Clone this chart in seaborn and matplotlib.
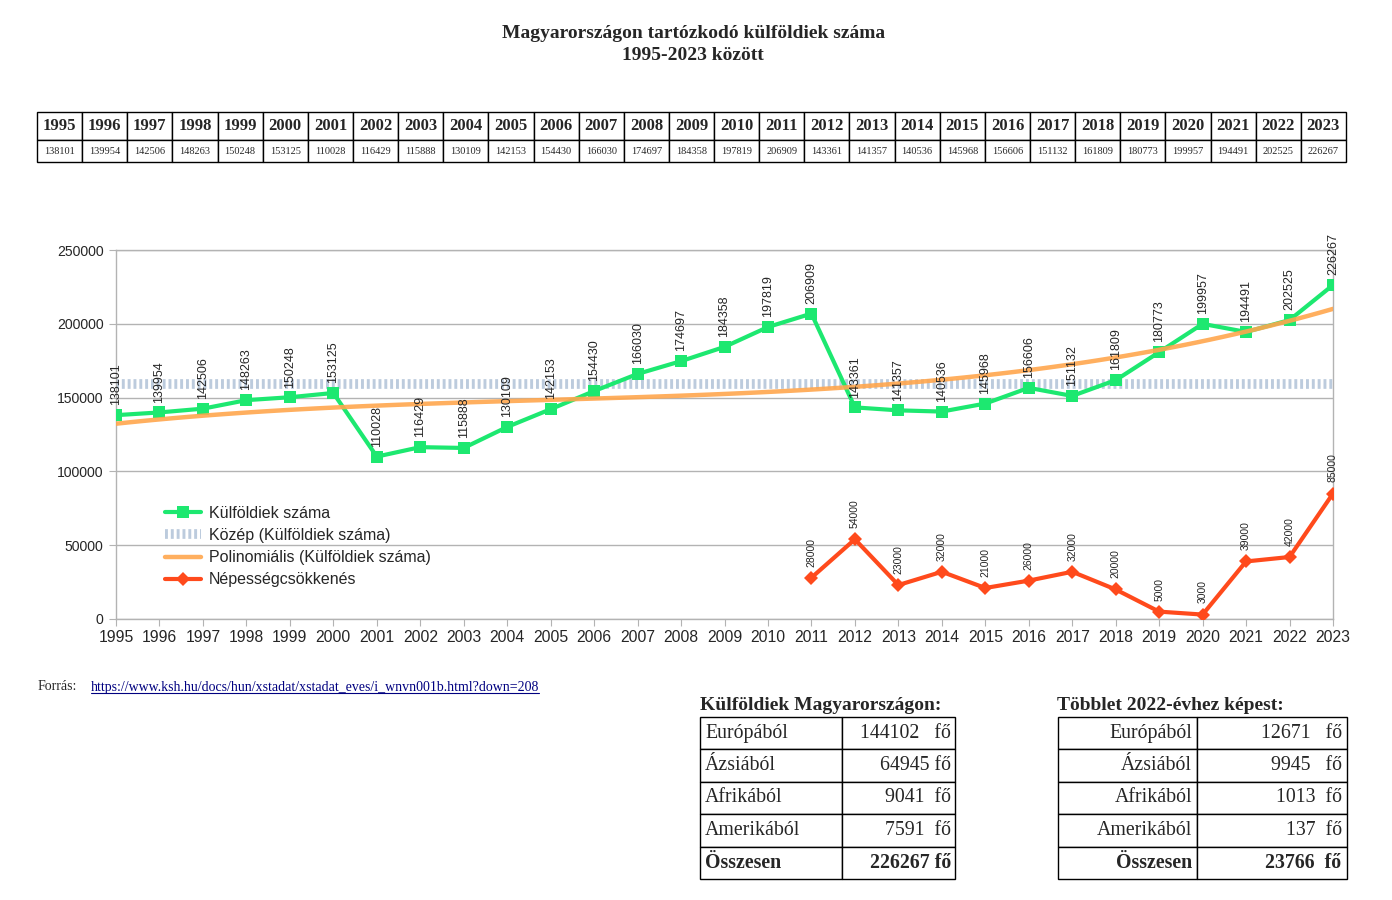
import numpy as np
import pandas as pd
import seaborn as sns
import matplotlib.pyplot as plt
from matplotlib.lines import Line2D

# ----------------------------- data ------------------------------
years = list(range(1995, 2024))
kulfoldiek = [138101, 139954, 142506, 148263, 150248, 153125, 110028, 116429,
              115888, 130109, 142153, 154430, 166030, 174697, 184358, 197819,
              206909, 143361, 141357, 140536, 145968, 156606, 151132, 161809,
              180773, 199957, 194491, 202525, 226267]
csokk_years = list(range(2011, 2024))
csokkenes = [28000, 54000, 23000, 32000, 21000, 26000, 32000, 20000,
             5000, 3000, 39000, 42000, 85000]

regiok = ["Európából", "Ázsiából", "Afrikából", "Amerikából", "Összesen"]
fo_2023 = ["144102   fő", "64945 fő", "9041  fő", "7591  fő", "226267 fő"]
tobblet = ["12671   fő", "9945   fő", "1013  fő", "137  fő", "23766  fő"]

# ----------------------------- style ------------------------------
sns.set_style("white")
plt.rcParams["font.family"] = ["Liberation Sans", "DejaVu Sans"]
SERIF = ["Liberation Serif", "DejaVu Serif"]

GREEN = "#1de870"
ORANGE = "#ffa64d"
RED = "#ff4a1c"
MEAN = "#bccbdd"
GRID = "#b3b3b3"

fig = plt.figure(figsize=(13.92, 9), dpi=100)

fig.text(0.498, 0.963, "Magyarországon tartózkodó külföldiek száma", ha="center", va="center",
         family=SERIF, weight="bold", fontsize=14)
fig.text(0.498, 0.938, "1995-2023 között", ha="center", va="center",
         family=SERIF, weight="bold", fontsize=14)

# ------------------------- year table ----------------------------
tax = fig.add_axes([37 / 1392, 1 - 162 / 900, 1309 / 1392, 50 / 900])
tax.axis("off")
tbl = tax.table(cellText=[[str(y) for y in years], [str(v) for v in kulfoldiek]],
                cellLoc="center", bbox=[0, 0, 1, 1])
tbl.auto_set_font_size(False)
for (r, c), cell in tbl.get_celld().items():
    cell.set_linewidth(1.0)
    cell.set_height(0.56 if r == 0 else 0.44)
    t = cell.get_text()
    t.set_fontfamily(SERIF)
    if r == 0:
        t.set_fontsize(12)
        t.set_fontweight("bold")
    else:
        t.set_fontsize(7.5)

# ---------------------------- chart ------------------------------
ax = fig.add_axes([116 / 1392, 1 - 619 / 900, 1217 / 1392, 369 / 900])
df = pd.DataFrame({"ev": years, "fo": kulfoldiek})
df_r = pd.DataFrame({"ev": csokk_years, "fo": csokkenes})

ax.axhline(np.mean(kulfoldiek), color=MEAN, lw=7, ls=(0, (0.3, 0.3)), zorder=1,
           label="Közép (Külföldiek száma)")
sns.lineplot(data=df, x="ev", y="fo", color=GREEN, lw=3, marker="s", markersize=9,
             markeredgewidth=0, label="Külföldiek száma", ax=ax, zorder=3)
sns.regplot(data=df, x="ev", y="fo", order=3, scatter=False, ci=None, color=ORANGE,
            line_kws=dict(lw=3.2, alpha=0.9, zorder=4), ax=ax)
ax.lines[-1].set_label("Polinomiális (Külföldiek száma)")
sns.lineplot(data=df_r, x="ev", y="fo", color=RED, lw=3, marker="D", markersize=7,
             markeredgewidth=0, label="Népességcsökkenés", ax=ax, zorder=3)

for x, y in zip(years, kulfoldiek):
    ax.annotate(str(y), (x, y), xytext=(0, 7), textcoords="offset points", rotation=90,
                ha="center", va="bottom", fontsize=9, zorder=6)
for x, y in zip(csokk_years, csokkenes):
    ax.annotate(str(y), (x, y), xytext=(0, 8), textcoords="offset points", rotation=90,
                ha="center", va="bottom", fontsize=7.5, zorder=6)

ax.set_xlim(1995, 2023)
ax.set_ylim(0, 250000)
ax.set_xticks(years)
ax.set_yticks(range(0, 250001, 50000))
ax.set_xlabel("")
ax.set_ylabel("")
ax.yaxis.grid(True, color=GRID, lw=1)
ax.set_axisbelow(True)
for s in ax.spines.values():
    s.set_color(GRID)
    s.set_linewidth(1)
ax.tick_params(axis="both", direction="out", length=5, color=GRID, left=True, bottom=True)
ax.tick_params(axis="x", labelsize=11.3, pad=3)
ax.tick_params(axis="y", labelsize=10.1, pad=4)

h, l = ax.get_legend_handles_labels()
order = ["Külföldiek száma", "Közép (Külföldiek száma)", "Polinomiális (Külföldiek száma)",
         "Népességcsökkenés"]
hd = dict(zip(l, h))
ax.legend([hd[k] for k in order], order, loc="upper left", bbox_to_anchor=(0.04, 0.307),
          frameon=False, fontsize=11.5, handlelength=2.3, handletextpad=0.45,
          labelspacing=0.45, borderpad=0, borderaxespad=0)

# ---------------------------- source -----------------------------
fig.text(38 / 1392, 1 - 687 / 900, "Forrás:", ha="left", va="center", family=SERIF, fontsize=10)
link = fig.text(91 / 1392, 1 - 687 / 900,
                "https://www.ksh.hu/docs/hun/xstadat/xstadat_eves/i_wnvn001b.html?down=208",
                ha="left", va="center", family=SERIF, fontsize=10, color="#000080")

# ------------------------ bottom tables --------------------------
def small_table(rect, col_w, text_cols, title, title_x, left_first):
    fig.text(title_x / 1392, 1 - 706 / 900, title, ha="left", va="center",
             family=SERIF, weight="bold", fontsize=14)
    a = fig.add_axes(rect)
    a.axis("off")
    tb = a.table(cellText=[list(r) for r in zip(*text_cols)], colWidths=col_w, bbox=[0, 0, 1, 1])
    tb.auto_set_font_size(False)
    for (r, c), cell in tb.get_celld().items():
        cell.set_linewidth(1.0)
        cell.PAD = 0.035
        cell._loc = "left" if (c == 0 and left_first) else "right"
        t = cell.get_text()
        t.set_fontfamily(SERIF)
        t.set_fontsize(14.3)
        t.set_ha(cell._loc)
        if r == len(regiok) - 1:
            t.set_fontweight("bold")
    return tb

small_table([700 / 1392, 1 - 879 / 900, 255 / 1392, 162 / 900], [142 / 255, 113 / 255],
            [regiok, fo_2023], "Külföldiek Magyarországon:", 700, True)
small_table([1058 / 1392, 1 - 879 / 900, 289 / 1392, 162 / 900], [139 / 289, 150 / 289],
            [regiok, tobblet], "Többlet 2022-évhez képest:", 1057, False)

# underline the link
fig.canvas.draw()
bb = link.get_window_extent(fig.canvas.get_renderer())
inv = fig.transFigure.inverted()
(x0, y0), (x1, _) = inv.transform([(bb.x0, bb.y0 + 1), (bb.x1, bb.y0 + 1)])
fig.add_artist(Line2D([x0, x1], [y0, y0], transform=fig.transFigure, color="#000080", lw=0.8))

fig.savefig("out.png", dpi=100)
